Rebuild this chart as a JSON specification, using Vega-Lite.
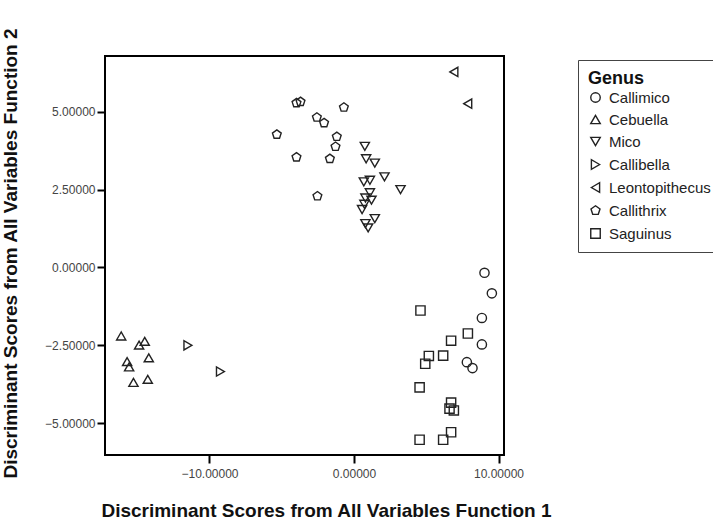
{
  "$schema": "https://vega.github.io/schema/vega-lite/v6.json",
  "autosize": "none",
  "width": 399,
  "height": 399,
  "padding": {"left": 105, "top": 56, "right": 209, "bottom": 65},
  "background": "white",
  "config": {
    "view": {"stroke": "#000", "strokeWidth": 2},
    "font": "Liberation Sans",
    "axis": {
      "grid": false,
      "domain": false,
      "tickColor": "#000",
      "tickWidth": 2,
      "tickSize": 8,
      "labelFont": "Liberation Sans",
      "labelFontSize": 12,
      "labelColor": "#444",
      "titleFont": "Liberation Sans",
      "titleFontSize": 19,
      "titleFontWeight": "bold",
      "titleColor": "#111"
    }
  },
  "data": {
    "values": [
      {"genus": "Callimico", "f1": 9.03, "f2": -0.17},
      {"genus": "Callimico", "f1": 9.54, "f2": -0.83},
      {"genus": "Callimico", "f1": 8.85, "f2": -1.62},
      {"genus": "Callimico", "f1": 8.85, "f2": -2.47},
      {"genus": "Callimico", "f1": 7.81, "f2": -3.04},
      {"genus": "Callimico", "f1": 8.2, "f2": -3.23},
      {"genus": "Cebuella", "f1": -16.11, "f2": -2.2},
      {"genus": "Cebuella", "f1": -14.48, "f2": -2.37},
      {"genus": "Cebuella", "f1": -14.87, "f2": -2.49},
      {"genus": "Cebuella", "f1": -14.2, "f2": -2.9},
      {"genus": "Cebuella", "f1": -15.7, "f2": -3.02},
      {"genus": "Cebuella", "f1": -15.56, "f2": -3.19},
      {"genus": "Cebuella", "f1": -14.27, "f2": -3.59},
      {"genus": "Cebuella", "f1": -15.26, "f2": -3.69},
      {"genus": "Mico", "f1": 0.75, "f2": 3.89},
      {"genus": "Mico", "f1": 0.84, "f2": 3.49},
      {"genus": "Mico", "f1": 1.44, "f2": 3.35},
      {"genus": "Mico", "f1": 2.11, "f2": 2.91},
      {"genus": "Mico", "f1": 3.22, "f2": 2.5},
      {"genus": "Mico", "f1": 0.68, "f2": 2.75},
      {"genus": "Mico", "f1": 1.1, "f2": 2.8},
      {"genus": "Mico", "f1": 1.1, "f2": 2.4},
      {"genus": "Mico", "f1": 0.79, "f2": 2.23},
      {"genus": "Mico", "f1": 1.21, "f2": 2.16},
      {"genus": "Mico", "f1": 0.72, "f2": 2.03},
      {"genus": "Mico", "f1": 0.56, "f2": 1.86},
      {"genus": "Mico", "f1": 1.44, "f2": 1.57},
      {"genus": "Mico", "f1": 0.79, "f2": 1.41},
      {"genus": "Mico", "f1": 0.98, "f2": 1.27},
      {"genus": "Callibella", "f1": -11.49, "f2": -2.5},
      {"genus": "Callibella", "f1": -9.24, "f2": -3.34},
      {"genus": "Leontopithecus", "f1": 6.91, "f2": 6.28},
      {"genus": "Leontopithecus", "f1": 7.87, "f2": 5.26},
      {"genus": "Callithrix", "f1": -3.98, "f2": 5.28},
      {"genus": "Callithrix", "f1": -3.7, "f2": 5.32},
      {"genus": "Callithrix", "f1": -0.7, "f2": 5.14},
      {"genus": "Callithrix", "f1": -2.57, "f2": 4.82},
      {"genus": "Callithrix", "f1": -2.07, "f2": 4.64},
      {"genus": "Callithrix", "f1": -5.34, "f2": 4.27},
      {"genus": "Callithrix", "f1": -1.19, "f2": 4.2},
      {"genus": "Callithrix", "f1": -1.28, "f2": 3.88},
      {"genus": "Callithrix", "f1": -3.98, "f2": 3.54},
      {"genus": "Callithrix", "f1": -1.67, "f2": 3.49},
      {"genus": "Callithrix", "f1": -2.53, "f2": 2.29},
      {"genus": "Saguinus", "f1": 4.6, "f2": -1.38},
      {"genus": "Saguinus", "f1": 7.88, "f2": -2.12},
      {"genus": "Saguinus", "f1": 6.72, "f2": -2.35},
      {"genus": "Saguinus", "f1": 5.18, "f2": -2.84},
      {"genus": "Saguinus", "f1": 6.17, "f2": -2.83},
      {"genus": "Saguinus", "f1": 4.93, "f2": -3.09},
      {"genus": "Saguinus", "f1": 4.54, "f2": -3.85},
      {"genus": "Saguinus", "f1": 6.72, "f2": -4.34},
      {"genus": "Saguinus", "f1": 6.61, "f2": -4.53},
      {"genus": "Saguinus", "f1": 6.91, "f2": -4.59},
      {"genus": "Saguinus", "f1": 4.54, "f2": -5.53},
      {"genus": "Saguinus", "f1": 6.17, "f2": -5.53},
      {"genus": "Saguinus", "f1": 6.72, "f2": -5.29}
    ]
  },
  "mark": {"type": "point", "filled": false, "color": "#222", "strokeWidth": 1.4, "size": 85, "opacity": 1},
  "encoding": {
    "x": {
      "field": "f1", "type": "quantitative",
      "scale": {"domain": [-17.23, 10.38], "nice": false, "zero": false},
      "axis": {"values": [-10, 0, 10], "format": ".5f", "title": "Discriminant Scores from All Variables Function 1", "labelPadding": 5, "titleX": 221, "titleY": 61, "titleBaseline": "alphabetic", "titleAnchor": "middle"}
    },
    "y": {
      "field": "f2", "type": "quantitative",
      "scale": {"domain": [-6.02, 6.79], "nice": false, "zero": false},
      "axis": {"values": [-5, -2.5, 0, 2.5, 5], "format": ".5f", "title": "Discriminant Scores from All Variables Function 2", "labelPadding": 2, "titleX": -89, "titleY": 197, "titleBaseline": "alphabetic", "titleAnchor": "middle", "titleAngle": -90}
    },
    "shape": {
      "field": "genus", "type": "nominal",
      "scale": {
        "domain": ["Callimico", "Cebuella", "Mico", "Callibella", "Leontopithecus", "Callithrix", "Saguinus"],
        "range": ["circle", "triangle-up", "triangle-down", "triangle-right", "triangle-left", "M0,-1L0.951,-0.309L0.588,0.809L-0.588,0.809L-0.951,-0.309Z", "square"]
      },
      "legend": {
        "title": "Genus",
        "orient": "none",
        "legendX": 473,
        "legendY": 4,
        "strokeColor": "#444",
        "padding": 10,
        "titleFont": "Liberation Sans",
        "titleFontSize": 18,
        "titleFontWeight": "bold",
        "titleColor": "#111",
        "titlePadding": 2,
        "labelFont": "Liberation Sans",
        "labelFontSize": 15,
        "labelColor": "#222",
        "labelOffset": 6,
        "symbolSize": 90,
        "symbolStrokeWidth": 1.4,
        "symbolStrokeColor": "#222",
        "symbolFillColor": "transparent",
        "rowPadding": 6,
        "symbolType": "circle"
      }
    }
  }
}
